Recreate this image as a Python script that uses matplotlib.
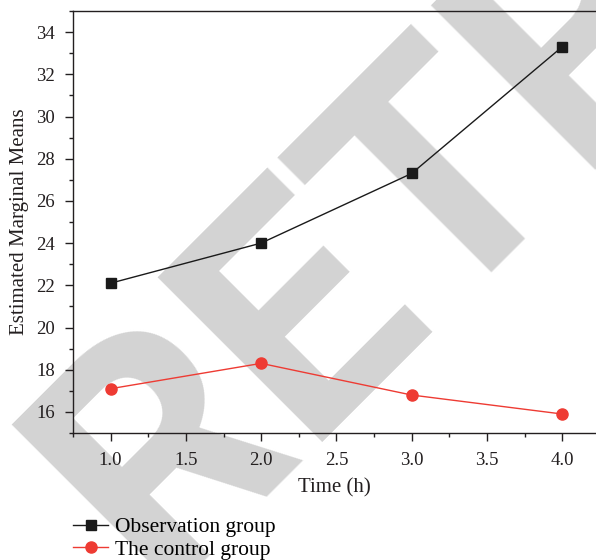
import matplotlib
matplotlib.use("Agg")
import matplotlib.pyplot as plt
from matplotlib.ticker import MultipleLocator, FormatStrFormatter

time_h = [1.0, 2.0, 3.0, 4.0]
observation = [22.1, 24.0, 27.3, 33.3]
control = [17.1, 18.3, 16.8, 15.9]
series_labels = ["Observation group", "The control group"]
x_label = "Time (h)"
y_label = "Estimated Marginal Means"
watermark = "RETRACTED"

plt.rcParams['font.family'] = ['Liberation Serif', 'DejaVu Serif']

W, H = 596, 560
fig = plt.figure(figsize=(W / 100, H / 100), dpi=100)

# watermark, anchored at its baseline-left point
fig.text(155 / W, 1 - 589 / H, watermark, rotation=45, fontsize=235, color='#d3d3d3',
         family='Roboto', fontweight='bold', ha='left', va='baseline',
         rotation_mode='anchor', zorder=-5)

ax = fig.add_axes([73 / W, 1 - 433 / H, (W - 73) / W, (433 - 11) / H])
ax.patch.set_alpha(0)
ax.plot(time_h, observation, color='#1a1a1a', lw=1.0, marker='s', ms=7,
        label=series_labels[0])
ax.plot(time_h, control, color='#ee3b33', lw=1.0, marker='o', ms=8,
        label=series_labels[1])

ax.set_xlim(0.75, 4.225)
ax.set_ylim(15, 35)
ax.xaxis.set_minor_locator(MultipleLocator(0.25))
ax.set_xticks([1.0, 1.5, 2.0, 2.5, 3.0, 3.5, 4.0])
ax.yaxis.set_minor_locator(MultipleLocator(1))
ax.set_yticks([16, 18, 20, 22, 24, 26, 28, 30, 32, 34])
ax.tick_params(which='major', direction='out', length=6, width=1, labelsize=13.5,
               colors='#231f20')
ax.tick_params(axis='y', which='major', pad=7)
ax.tick_params(axis='x', which='major', pad=8)
ax.tick_params(which='minor', direction='out', length=3, width=1, colors='#231f20')
ax.xaxis.set_major_formatter(FormatStrFormatter('%.1f'))
ax.spines['right'].set_visible(False)
for s in ['left', 'bottom', 'top']:
    ax.spines[s].set_color('#231f20')
    ax.spines[s].set_linewidth(1.0)
ax.set_xlabel(x_label, fontsize=15, color='#231f20', labelpad=6)
ax.set_ylabel(y_label, fontsize=15, color='#231f20', labelpad=5)

ax.legend(loc='upper left', bbox_to_anchor=(0.0, -0.2), frameon=False,
          fontsize=15.5, handlelength=1.63, handletextpad=0.33, labelspacing=0.1,
          borderaxespad=0, borderpad=0)

fig.savefig("out.png", dpi=100)
